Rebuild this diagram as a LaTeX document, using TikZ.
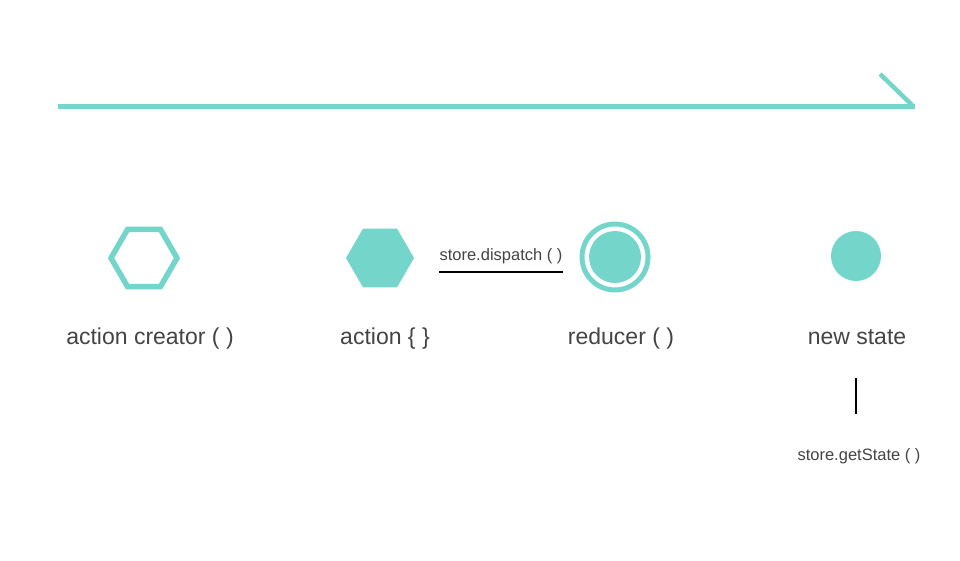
\documentclass[tikz,border=0pt]{standalone}
\usepackage{fontspec}
\setmainfont{Liberation Sans}
\usetikzlibrary{shapes.geometric,calc}
\definecolor{teal}{HTML}{74D6CB}
\definecolor{txt}{HTML}{444444}
\begin{document}
\begin{tikzpicture}[x=1pt,y=-1pt,
  lbl/.style={font=\fontsize{23}{26}\selectfont, text=txt, inner sep=0pt, anchor=base},
  small/.style={font=\fontsize{16.5}{18}\selectfont, text=txt, inner sep=0pt, anchor=base},
  hex/.style={regular polygon, regular polygon sides=6, shape border rotate=0, inner sep=0pt},
]
\useasboundingbox (0,0) rectangle (960,560);
% timeline arrow
\coordinate (aStart) at (58,106);
\coordinate (aEnd) at (915,106);
\coordinate (aTip) at (880,74);
\draw[teal, line width=5pt] (aStart) -- (aEnd);
\draw[teal, line width=4.5pt] (aTip) -- ($(aEnd)+(-3,-1)$);
% shapes
\node[hex, draw=teal, line width=5.5pt, minimum size=66pt] (creator) at (144,258) {};
\node[hex, fill=teal, minimum size=68pt] (action) at (380,258) {};
\node[circle, draw=teal, line width=5pt, minimum size=66pt, inner sep=0pt] (reducerOuter) at (615,257) {};
\node[circle, fill=teal, minimum size=52pt, inner sep=0pt] (reducer) at (615,257) {};
\node[circle, fill=teal, minimum size=50pt, inner sep=0pt] (state) at (856,256) {};
% labels
\node[lbl] (lcreator) at (150,344) {action creator ( )};
\node[lbl] (laction) at (385,344) {action \{ \}};
\node[lbl] (lreducer) at (621,344) {reducer ( )};
\node[lbl] (lstate) at (857,344) {new state};
% dispatch
\node[small] (dispatch) at (501,260) {store.dispatch ( )};
\coordinate (dA) at (439,272);
\coordinate (dB) at (563,272);
\draw[black, line width=2pt] (dA) -- (dB);
% getState
\coordinate (gA) at (856,378);
\coordinate (gB) at (856,414);
\draw[black, line width=2pt] (gA) -- (gB);
\node[small] (getstate) at (859,460) {store.getState ( )};
\end{tikzpicture}
\end{document}
